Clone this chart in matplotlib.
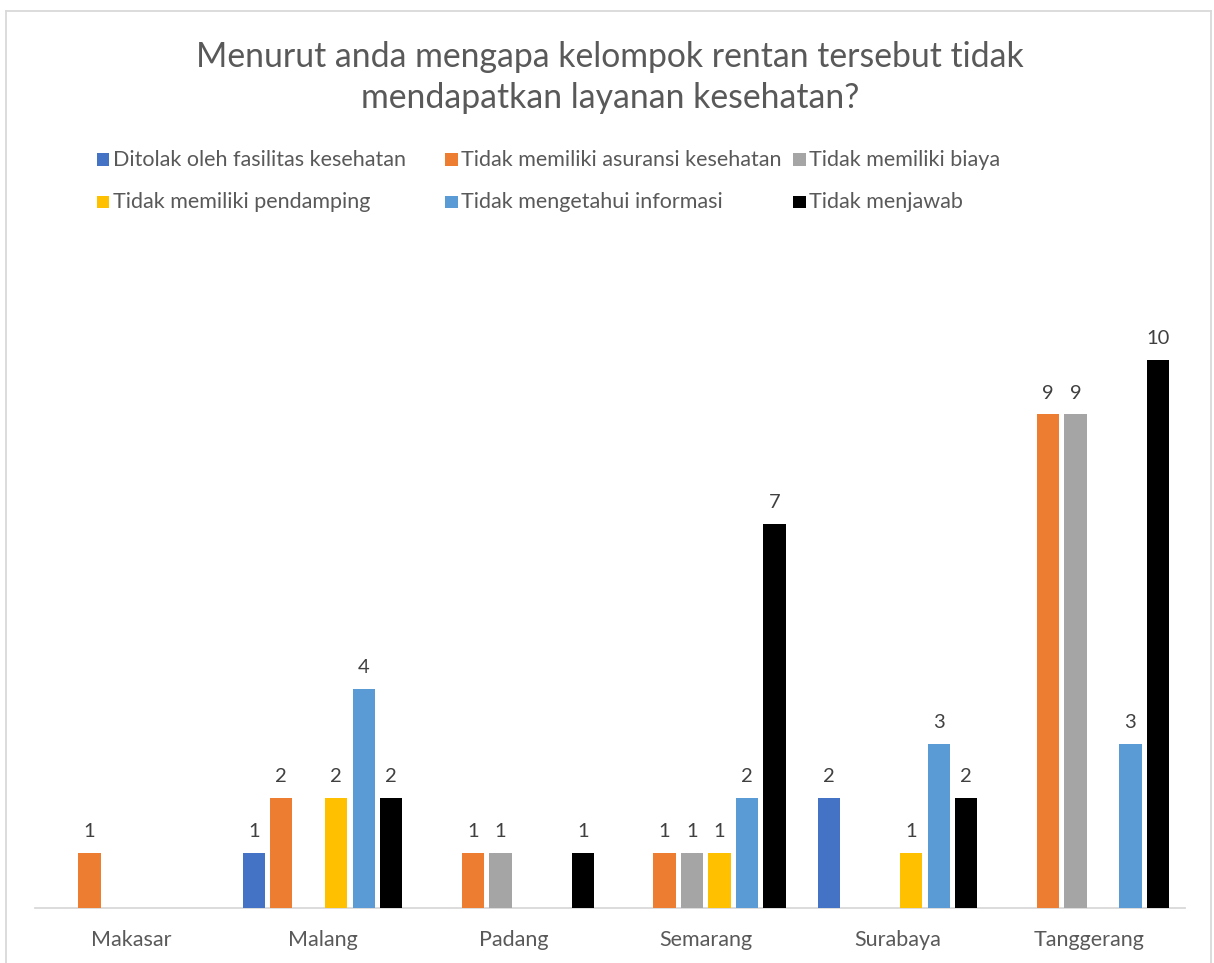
import matplotlib
matplotlib.use("Agg")
import matplotlib.pyplot as plt
from matplotlib.patches import Rectangle
from matplotlib.lines import Line2D
import numpy as np

plt.rcParams['font.family'] = ['Lato', 'DejaVu Sans']

title_lines = ["Menurut anda mengapa kelompok rentan tersebut tidak",
               "mendapatkan layanan kesehatan?"]

cities = ["Makasar", "Malang", "Padang", "Semarang", "Surabaya", "Tanggerang"]

series_names = [
    "Ditolak oleh fasilitas kesehatan",
    "Tidak memiliki asuransi kesehatan",
    "Tidak memiliki biaya",
    "Tidak memiliki pendamping",
    "Tidak mengetahui informasi",
    "Tidak menjawab",
]

ditolak = [0, 1, 0, 0, 2, 0]
asuransi = [1, 2, 1, 1, 0, 9]
biaya = [0, 0, 1, 1, 0, 9]
pendamping = [0, 2, 0, 1, 1, 0]
informasi = [0, 4, 0, 2, 3, 3]
menjawab = [0, 2, 1, 7, 2, 10]

series_values = [ditolak, asuransi, biaya, pendamping, informasi, menjawab]
colors = ["#4472C4", "#ED7D31", "#A5A5A5", "#FFC000", "#5B9BD5", "#000000"]

W, H = 1214, 963
fig = plt.figure(figsize=(W / 100, H / 100), dpi=100)
fig.patch.set_facecolor("white")

# chart area border (left, top, right)
for xs, ys in [([6, 6], [11, H + 5]), ([6, 1211], [11, 11]), ([1211, 1211], [11, H + 5])]:
    fig.add_artist(Line2D([x / W for x in xs], [1 - y / H for y in ys],
                          color="#D9D9D9", lw=1.3, transform=fig.transFigure))

# plot area
left, right, bottom, top = 35, 1185, 908, 250
ax = fig.add_axes([left / W, 1 - bottom / H, (right - left) / W, (bottom - top) / H])
ax.set_xlim(-0.5, len(cities) - 0.5)
ax.set_ylim(0, 12)

x = np.arange(len(cities))
step = 0.1435
bar_w = 0.117
n = len(series_values)
for i, (vals, col) in enumerate(zip(series_values, colors)):
    pos = x + (i - (n - 1) / 2) * step
    ax.bar(pos, vals, width=bar_w, color=col, linewidth=0, zorder=3)
    for px, v in zip(pos, vals):
        if v:
            ax.annotate(str(v), (px, v), xytext=(0, 11.5), textcoords="offset points",
                        ha="center", va="baseline", fontsize=14.5, color="#404040")

for s in ["top", "right", "left"]:
    ax.spines[s].set_visible(False)
ax.spines["bottom"].set_color("#D9D9D9")
ax.spines["bottom"].set_linewidth(1.3)
ax.set_yticks([])
ax.set_xticks(x)
ax.set_xticklabels(cities, fontsize=15.5, color="#595959")
ax.tick_params(axis="x", length=0, pad=16)

# title
fig.text(610 / W, 1 - 67 / H, title_lines[0], ha="center", va="baseline",
         fontsize=24.3, color="#595959")
fig.text(610 / W, 1 - 108.5 / H, title_lines[1], ha="center", va="baseline",
         fontsize=24.3, color="#595959")

# legend: three equal-width columns, two rows
col_x = [97, 445, 793]
row_base = [166, 208.5]
sq = 12.5
for k, (name, col) in enumerate(zip(series_names, colors)):
    r, c = divmod(k, 3)
    mx = col_x[c]
    my = row_base[r] - 12.8
    fig.add_artist(Rectangle((mx / W, 1 - (my + sq) / H), sq / W, sq / H,
                             facecolor=col, edgecolor="none", transform=fig.transFigure))
    fig.text((mx + 16) / W, 1 - row_base[r] / H, name, ha="left", va="baseline",
             fontsize=15.5, color="#595959")

fig.savefig("out.png", dpi=100)
